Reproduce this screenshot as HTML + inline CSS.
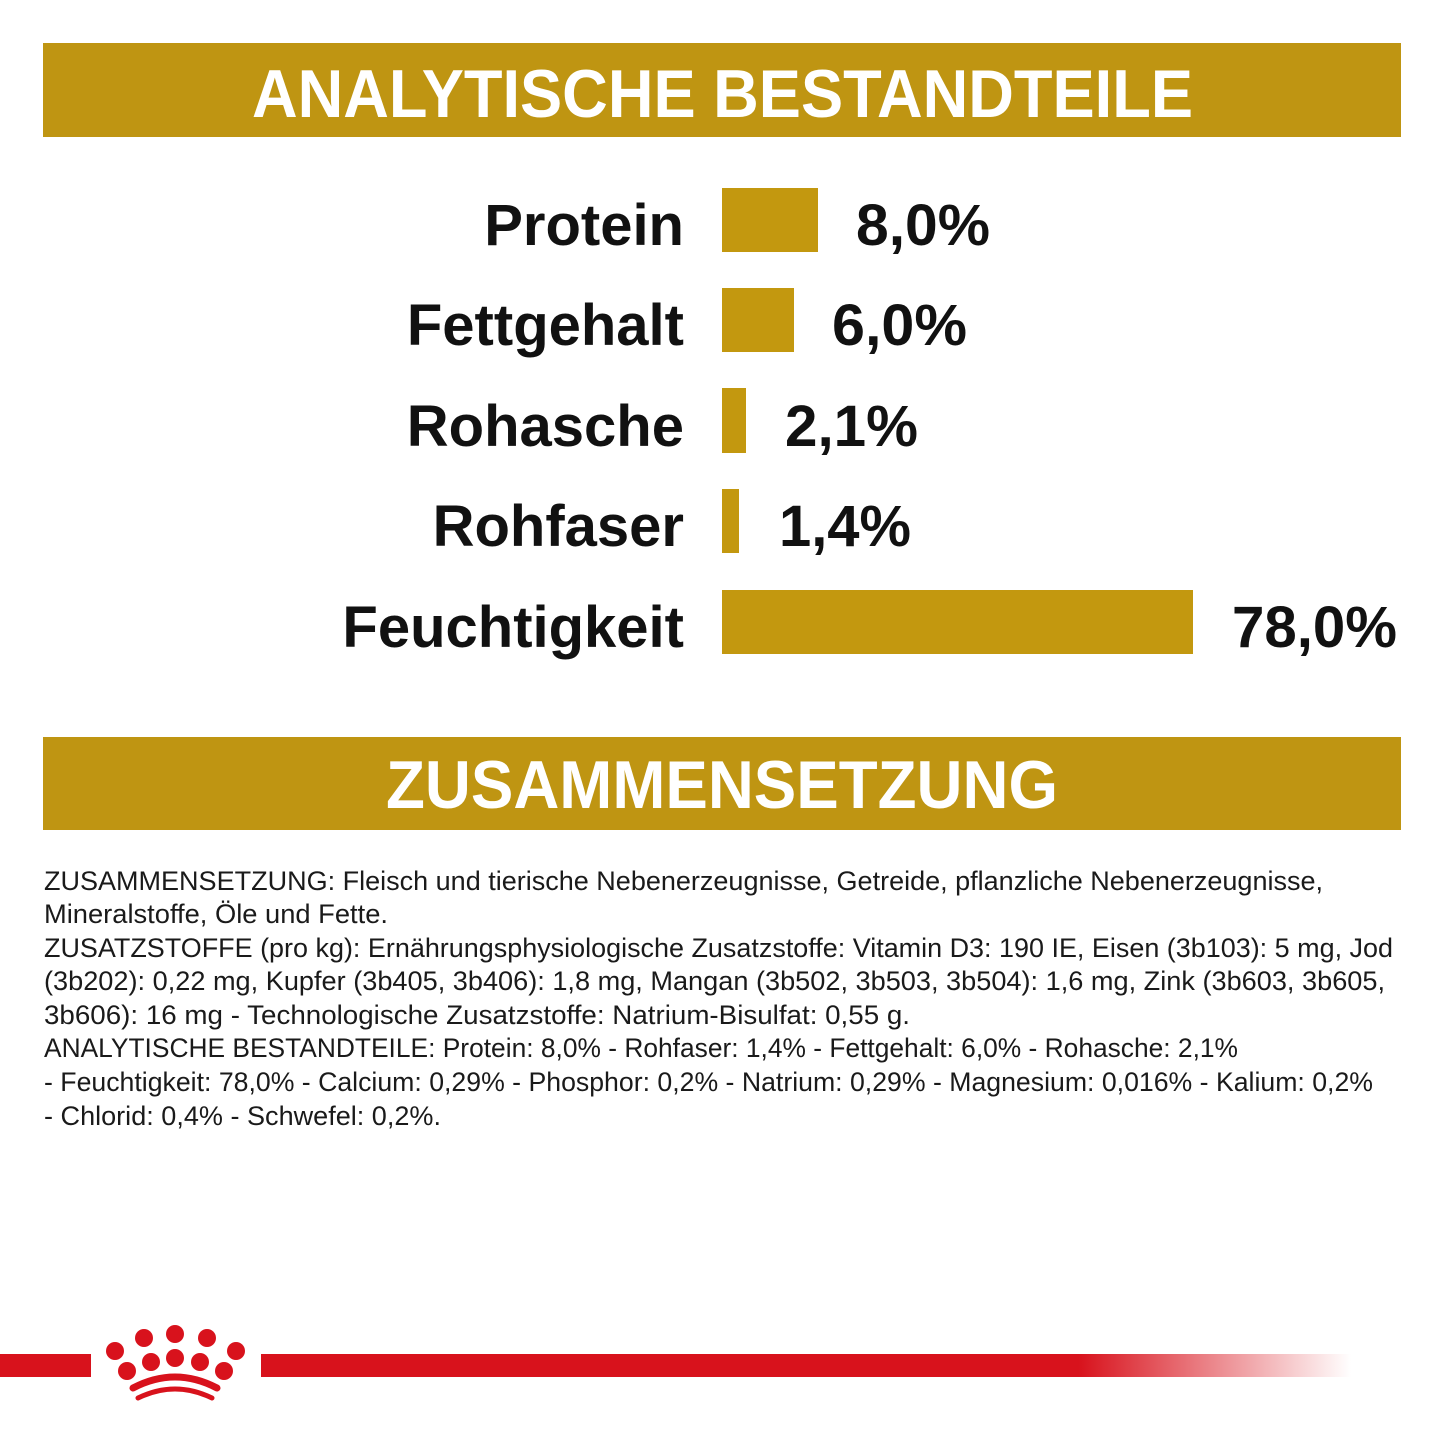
<!DOCTYPE html>
<html><head><meta charset="utf-8"><style>html,body{margin:0;padding:0;background:#fff}svg{display:block}</style></head>
<body>
<svg width="1445" height="1445" viewBox="0 0 1445 1445" xmlns="http://www.w3.org/2000/svg" font-family="Liberation Sans, sans-serif">
<defs><linearGradient id="g" x1="0" x2="1"><stop offset="0" stop-color="#d8121c"/><stop offset="0.75" stop-color="#d8121c"/><stop offset="1" stop-color="#d8121c" stop-opacity="0"/></linearGradient></defs>
<rect x="43" y="43" width="1358" height="94" fill="#bf9512"/>
<text x="252" y="117" font-size="68" font-weight="bold" fill="#fff" textLength="941" lengthAdjust="spacingAndGlyphs">ANALYTISCHE BESTANDTEILE</text>
<g font-size="58" font-weight="bold" fill="#111">
<text x="684" y="245" text-anchor="end">Protein</text>
<text x="684" y="345" text-anchor="end">Fettgehalt</text>
<text x="684" y="446" text-anchor="end">Rohasche</text>
<text x="684" y="546" text-anchor="end">Rohfaser</text>
<text x="684" y="647" text-anchor="end">Feuchtigkeit</text>
<text x="856" y="245" textLength="134" lengthAdjust="spacingAndGlyphs">8,0%</text>
<text x="832" y="345" textLength="135" lengthAdjust="spacingAndGlyphs">6,0%</text>
<text x="785" y="446" textLength="133" lengthAdjust="spacingAndGlyphs">2,1%</text>
<text x="779" y="546" textLength="132" lengthAdjust="spacingAndGlyphs">1,4%</text>
<text x="1232" y="647" textLength="165" lengthAdjust="spacingAndGlyphs">78,0%</text>
</g>
<g fill="#c3980f">
<rect x="722" y="188" width="96" height="64"/>
<rect x="722" y="288" width="72" height="64"/>
<rect x="722" y="388" width="24" height="65"/>
<rect x="722" y="489" width="17" height="64"/>
<rect x="722" y="590" width="471" height="64"/>
</g>
<rect x="43" y="737" width="1358" height="93" fill="#bf9512"/>
<text x="386" y="808" font-size="68" font-weight="bold" fill="#fff" textLength="672" lengthAdjust="spacingAndGlyphs">ZUSAMMENSETZUNG</text>
<g font-size="27" fill="#1a1a1a" lengthAdjust="spacingAndGlyphs">
<text x="44" y="890" textLength="1279" lengthAdjust="spacingAndGlyphs">ZUSAMMENSETZUNG: Fleisch und tierische Nebenerzeugnisse, Getreide, pflanzliche Nebenerzeugnisse,</text>
<text x="44" y="923" textLength="344" lengthAdjust="spacingAndGlyphs">Mineralstoffe, Öle und Fette.</text>
<text x="44" y="957" textLength="1349" lengthAdjust="spacingAndGlyphs">ZUSATZSTOFFE (pro kg): Ernährungsphysiologische Zusatzstoffe: Vitamin D3: 190 IE, Eisen (3b103): 5 mg, Jod</text>
<text x="44" y="990" textLength="1341" lengthAdjust="spacingAndGlyphs">(3b202): 0,22 mg, Kupfer (3b405, 3b406): 1,8 mg, Mangan (3b502, 3b503, 3b504): 1,6 mg, Zink (3b603, 3b605,</text>
<text x="44" y="1024" textLength="866" lengthAdjust="spacingAndGlyphs">3b606): 16 mg - Technologische Zusatzstoffe: Natrium-Bisulfat: 0,55 g.</text>
<text x="44" y="1057" textLength="1194" lengthAdjust="spacingAndGlyphs">ANALYTISCHE BESTANDTEILE: Protein: 8,0% - Rohfaser: 1,4% - Fettgehalt: 6,0% - Rohasche: 2,1%</text>
<text x="44" y="1091" textLength="1329" lengthAdjust="spacingAndGlyphs">- Feuchtigkeit: 78,0% - Calcium: 0,29% - Phosphor: 0,2% - Natrium: 0,29% - Magnesium: 0,016% - Kalium: 0,2%</text>
<text x="44" y="1125" textLength="397" lengthAdjust="spacingAndGlyphs">- Chlorid: 0,4% - Schwefel: 0,2%.</text>
</g>
<rect x="0" y="1354" width="91" height="23" fill="#d8121c"/>
<rect x="261" y="1354" width="1090" height="23" fill="url(#g)"/>
<g fill="#d8121c">
<circle cx="115" cy="1351" r="9"/><circle cx="144" cy="1338" r="9"/><circle cx="175" cy="1334" r="9"/><circle cx="207" cy="1338" r="9"/><circle cx="236" cy="1351" r="9"/>
<circle cx="127" cy="1371" r="9"/><circle cx="151" cy="1362" r="9"/><circle cx="175" cy="1358" r="9"/><circle cx="200" cy="1362" r="9"/><circle cx="224" cy="1371" r="9"/>
</g>
<g fill="none" stroke="#d8121c" stroke-linecap="round">
<path d="M133 1388 Q175 1366 217 1388" stroke-width="7"/>
<path d="M138 1398 Q175 1380 212 1398" stroke-width="5"/>
</g>
</svg>
</body></html>
